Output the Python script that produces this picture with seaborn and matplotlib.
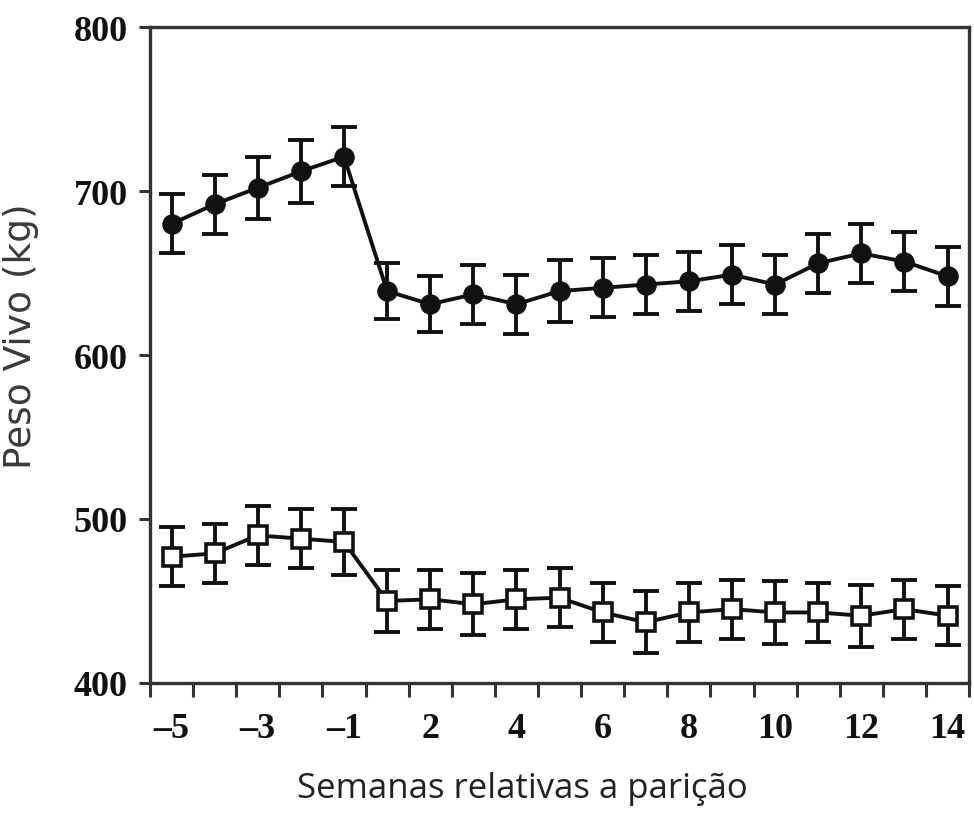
import numpy as np
import pandas as pd
import seaborn as sns
from matplotlib import pyplot as plt
from matplotlib.ticker import FixedLocator

# semanas relativas ao parto (sem a semana 0)
semanas = [-5, -4, -3, -2, -1, 1, 2, 3, 4, 5, 6, 7, 8, 9, 10, 11, 12, 13, 14]

# vacas (circulos cheios)
peso_vacas = [680, 692, 702, 712, 721, 639, 631, 637, 631, 639,
              641, 643, 645, 649, 643, 656, 662, 657, 648]
ep_vacas = [18, 18, 19, 19, 18, 17, 17, 18, 18, 19,
            18, 18, 18, 18, 18, 18, 18, 18, 18]

# novilhas (quadrados abertos)
peso_novilhas = [477, 479, 490, 488, 486, 450, 451, 448, 451, 452,
                 443, 437, 443, 445, 443, 443, 441, 445, 441]
ep_novilhas = [18, 18, 18, 18, 20, 19, 18, 19, 18, 18,
               18, 19, 18, 18, 19, 18, 19, 18, 18]

rotulos_x = ["\u20135", "\u20133", "\u20131", "2", "4", "6", "8", "10", "12", "14"]

df = pd.DataFrame({"pos": np.arange(len(semanas)), "semana": semanas,
                   "vacas": peso_vacas, "novilhas": peso_novilhas})

sns.set_style("ticks")
fig = plt.figure(figsize=(9.74, 8.28), dpi=100)
ax = fig.add_axes([0.154, 0.174, 0.841, 0.792])

cor = "#111111"
ax.errorbar(df["pos"], df["vacas"], yerr=ep_vacas, fmt="none", ecolor=cor,
            elinewidth=2.8, capsize=9.5, capthick=2.8, zorder=2)
ax.errorbar(df["pos"], df["novilhas"], yerr=ep_novilhas, fmt="none", ecolor=cor,
            elinewidth=2.8, capsize=9.5, capthick=2.8, zorder=2)

sns.lineplot(data=df, x="pos", y="vacas", ax=ax, color=cor, lw=2.8,
             marker="o", markersize=14, markerfacecolor=cor,
             markeredgecolor=cor, zorder=3)
sns.lineplot(data=df, x="pos", y="novilhas", ax=ax, color=cor, lw=2.8,
             marker="s", markersize=12.5, markerfacecolor="white",
             markeredgecolor=cor, markeredgewidth=2.6, zorder=3)

ax.set_xlim(-0.5, len(semanas) - 0.5)
ax.set_ylim(400, 800)

# rotulos nas semanas pares, marcas entre as semanas
ax.set_xticks(df["pos"][::2])
ax.set_xticklabels(rotulos_x)
ax.xaxis.set_minor_locator(FixedLocator(np.arange(-0.5, len(semanas), 1.0)))
ax.tick_params(axis="x", which="major", length=0, pad=21)
ax.tick_params(axis="x", which="minor", length=10, width=2.2, color="#333333",
               direction="out")
ax.set_yticks([400, 500, 600, 700, 800])
ax.tick_params(axis="y", length=8, width=2.2, color="#333333", pad=8)

for lab in ax.get_xticklabels() + ax.get_yticklabels():
    lab.set_fontfamily("Liberation Serif")
    lab.set_fontweight("bold")
    lab.set_fontsize(26)
    lab.set_color("#111111")

for sp in ax.spines.values():
    sp.set_linewidth(2.4)
    sp.set_color("#333333")

ax.set_xlabel("Semanas relativas a parição", fontsize=25, family="Open Sans",
              color="#222222")
ax.xaxis.set_label_coords(0.454, -0.135)
ax.set_ylabel("Peso Vivo (kg)", fontsize=27, family="DejaVu Sans",
              color="#3a3a3a")
ax.yaxis.set_label_coords(-0.135, 0.53)

plt.savefig("out.png", dpi=100)
